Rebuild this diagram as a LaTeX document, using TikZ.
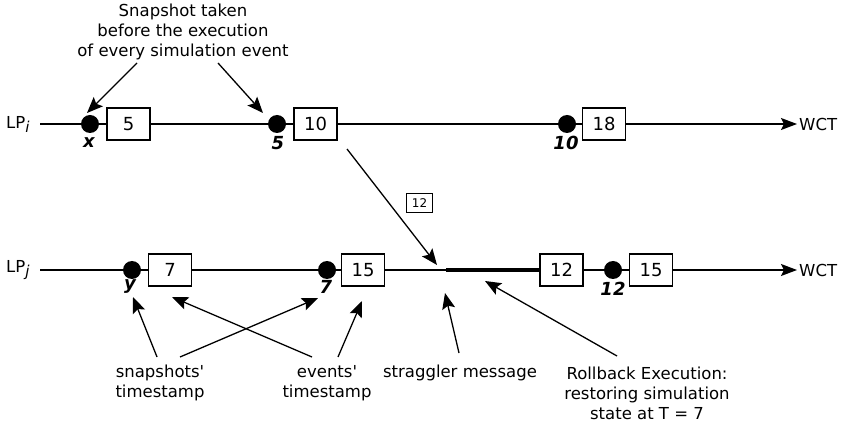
\documentclass[tikz,border=0pt]{standalone}
\usepackage{fontspec}
\setmainfont{DejaVu Sans}
\usetikzlibrary{arrows.meta}
\begin{document}
\begin{tikzpicture}[x=1pt,y=-1pt,
  dot/.style={circle,fill=black,inner sep=0pt,minimum size=18pt},
  evbox/.style={draw,line width=1.2pt,fill=white,minimum width=43pt,minimum height=32pt,inner sep=0pt,font=\fontsize{18}{20}\selectfont},
  msgbox/.style={draw,line width=0.8pt,minimum width=26pt,minimum height=19pt,inner sep=0pt,font=\fontsize{12}{14}\selectfont},
  tl/.style={line width=1.3pt},
  thick tl/.style={line width=4pt},
  tlarr/.style={line width=1.3pt,-{Stealth[length=16pt,width=12pt,inset=3pt]}},
  arr/.style={line width=1.3pt,-{Stealth[length=16pt,width=13pt,inset=3pt]}},
  txt/.style={font=\fontsize{16.5}{20}\selectfont,align=center,inner sep=0pt},
  ts/.style={font=\fontsize{18}{20}\selectfont\bfseries\itshape,inner sep=0pt},
  lp/.style={font=\fontsize{16.5}{20}\selectfont,inner sep=0pt,anchor=west},
]
\useasboundingbox (0,0) rectangle (845,427);

% ---------- LP_i ----------
\node[lp] (lpi) at (6,124) {LP\raisebox{-4pt}{\fontsize{15}{15}\selectfont\itshape i}};
\coordinate (si) at (40,124);
\node[dot] (di1) at (90,124) {};
\node[evbox] (bi1) at (128.5,124) {5};
\node[dot] (di2) at (277,124) {};
\node[evbox] (bi2) at (315.5,124) {10};
\node[dot] (di3) at (567,124) {};
\node[evbox] (bi3) at (604,124) {18};
\coordinate (ei) at (797,124);
\node[lp] (wcti) at (799,124) {WCT};

\draw[tl] (si) -- (di1);
\draw[tl] (di1) -- (bi1);
\draw[tl] (bi1) -- (di2);
\draw[tl] (di2) -- (bi2);
\draw[tl] (bi2) -- (di3);
\draw[tl] (di3) -- (bi3);
\draw[tlarr] (bi3) -- (ei);

\node[ts] (lx) at (89,143) {x};
\node[ts] (l5) at (278,143) {5};
\node[ts] (l10) at (566,143) {10};

% ---------- LP_j ----------
\node[lp] (lpj) at (6,270) {LP\raisebox{-4pt}{\fontsize{15}{15}\selectfont\itshape j}};
\coordinate (sj) at (40,270);
\node[dot] (dj1) at (132,270) {};
\node[evbox] (bj1) at (170,270) {7};
\node[dot] (dj2) at (327,270) {};
\node[evbox] (bj2) at (363,270) {15};
\coordinate (m) at (446,270);
\node[evbox] (bj3) at (561.5,270) {12};
\node[dot] (dj3) at (613,270) {};
\node[evbox] (bj4) at (651,270) {15};
\coordinate (ej) at (797,270);
\node[lp] (wctj) at (799,270) {WCT};

\draw[tl] (sj) -- (dj1);
\draw[tl] (dj1) -- (bj1);
\draw[tl] (bj1) -- (dj2);
\draw[tl] (dj2) -- (bj2);
\draw[tl] (bj2) -- (m);
\draw[thick tl] (m) -- (bj3);
\draw[tl] (bj3) -- (dj3);
\draw[tl] (dj3) -- (bj4);
\draw[tlarr] (bj4) -- (ej);

\node[ts] (ly) at (130,287) {y};
\node[ts] (l7) at (326,287) {7};
\node[ts] (l12) at (613,289) {12};

% ---------- straggler message ----------
\coordinate (ms) at (347,149);
\coordinate (mt) at (437,265);
\draw[arr] (ms) -- (mt);
\node[msgbox] (mb) at (419.5,203) {12};

% ---------- annotations ----------
\node[txt] (snap) at (183,32) {Snapshot taken\\before the execution\\of every simulation event};
\coordinate (a1s) at (137,63);
\coordinate (a1t) at (87,113);
\coordinate (a2s) at (218,63);
\coordinate (a2t) at (263,113);
\draw[arr] (a1s) -- (a1t);
\draw[arr] (a2s) -- (a2t);

\node[txt] (snts) at (160,383) {snapshots\textquotesingle\\timestamp};
\node[txt] (evts) at (327,383) {events\textquotesingle\\timestamp};
\node[txt] (strag) at (460,373) {straggler message};
\node[txt] (rb) at (647,393) {Rollback Execution:\\restoring simulation\\state at T = 7};

\coordinate (b1s) at (157,357);
\coordinate (b1t) at (133,297);
\coordinate (b2s) at (180,357);
\coordinate (b2t) at (318,298);
\coordinate (b3s) at (312,357);
\coordinate (b3t) at (172,297);
\coordinate (b4s) at (338,357);
\coordinate (b4t) at (362,301);
\coordinate (b5s) at (459,353);
\coordinate (b5t) at (445,293);
\coordinate (b6s) at (617,356);
\coordinate (b6t) at (485,281);
\draw[arr] (b1s) -- (b1t);
\draw[arr] (b2s) -- (b2t);
\draw[arr] (b3s) -- (b3t);
\draw[arr] (b4s) -- (b4t);
\draw[arr] (b5s) -- (b5t);
\draw[arr] (b6s) -- (b6t);
\end{tikzpicture}
\end{document}
